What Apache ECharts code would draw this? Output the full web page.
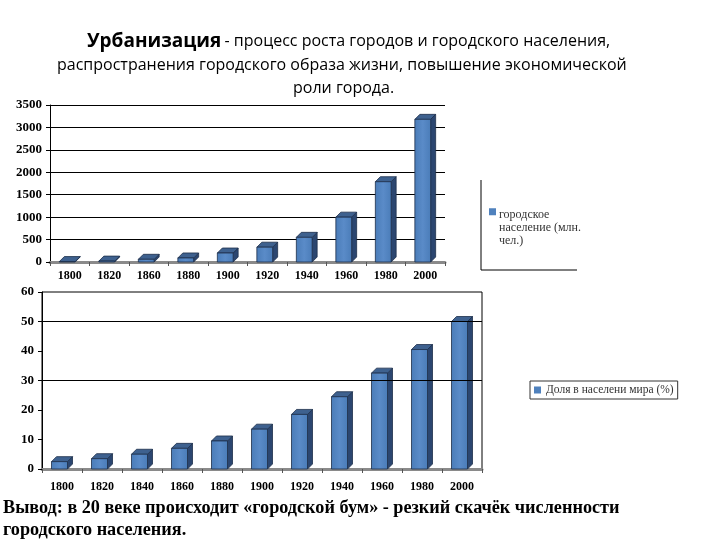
<!DOCTYPE html>
<html><head><meta charset="utf-8">
<script src="https://cdn.jsdelivr.net/npm/echarts@6/dist/echarts.min.js"></script>
<style>html,body{margin:0;padding:0;background:#fff}#c{width:720px;height:540px}</style>
</head><body><div id="c"></div>
<script>
// ---- data ----
const topYears = ['1800','1820','1860','1880','1900','1920','1940','1960','1980','2000'];
const urbanPop = [10, 20, 60, 90, 200, 330, 550, 1000, 1790, 3180];
const topTicks = {min: 0, max: 3500, interval: 500};

const botYears = ['1800','1820','1840','1860','1880','1900','1920','1940','1960','1980','2000'];
const worldShare = [2.5, 3.5, 5, 7, 9.5, 13.5, 18.5, 24.5, 32.5, 40.5, 50];
const botTicks = {min: 0, max: 60, interval: 10};
const botGridLines = [30, 50];

const topSeriesName = 'городское население (млн. чел.)';
const botSeriesName = 'Доля в населени мира (%)';

// ---- 3D-looking bar renderer via axis scales ----
function bar3d(params, api) {
  const idx = api.value(0), val = api.value(1);
  const top = api.coord([idx, val]);
  const base = api.coord([idx, 0]);
  const band = api.size([1, 0])[0];
  const w = band * 0.4, d = 5;
  const x0 = top[0] - w / 2 - d / 2, x1 = x0 + w;
  const yt = top[1], yb = base[1];
  const stroke = '#1d2f4a';
  return {
    type: 'group',
    children: [
      {type: 'polygon', shape: {points: [[x1, yt], [x1 + d, yt - d], [x1 + d, yb - d], [x1, yb]]},
       style: {fill: '#2b4670', stroke: stroke, lineWidth: 0.8}},
      {type: 'polygon', shape: {points: [[x0, yt], [x0 + d, yt - d], [x1 + d, yt - d], [x1, yt]]},
       style: {fill: '#3e618f', stroke: stroke, lineWidth: 0.8}},
      {type: 'rect', shape: {x: x0, y: yt, width: w, height: yb - yt},
       style: {fill: new echarts.graphic.LinearGradient(0, 0, 1, 0, [
         {offset: 0, color: '#4a7cb8'}, {offset: 0.5, color: '#5a8bc8'}, {offset: 1, color: '#4a7cb8'}]),
         stroke: stroke, lineWidth: 0.8}}
    ]
  };
}

const chart = echarts.init(document.getElementById('c'), null, {renderer: 'canvas'});
const axisFont = {fontFamily: 'Liberation Serif', fontWeight: 'bold', color: '#000'};
const titleFont = 'Open Sans';
const plain = v => String(v);

chart.setOption({
  animation: false,
  backgroundColor: '#fff',
  graphic: [
    {type: 'text', left: 87, top: 32, style: {
      text: '{b|Урбанизация} {n|- процесс роста городов и городского населения,}',
      rich: {b: {fontFamily: titleFont, fontWeight: 'bold', fontSize: 19, fill: '#000'},
             n: {fontFamily: titleFont, fontSize: 16, fill: '#000'}}}},
    {type: 'text', left: 57, top: 57, style: {
      text: 'распространения городского образа жизни, повышение экономической',
      fontFamily: titleFont, fontSize: 16, fill: '#000'}},
    {type: 'text', left: 293, top: 80, style: {
      text: 'роли города.', fontFamily: titleFont, fontSize: 16, fill: '#000'}},
    {type: 'polyline', shape: {points: [[481, 180], [481, 270], [577, 270]]},
     style: {stroke: '#000', lineWidth: 1, fill: null}},
    {type: 'text', left: 3, top: 497, style: {
      text: 'Вывод: в 20 веке происходит «городской бум» - резкий скачёк численности\nгородского населения.',
      fontFamily: 'Liberation Serif', fontWeight: 'bold', fontSize: 18.2, lineHeight: 22, fill: '#000'}}
  ],
  legend: [
    {data: [topSeriesName], left: 484, top: 203, orient: 'vertical',
     icon: 'path://M0,0H10V10H0Z M0,55H0.05V55.05H0Z',
     itemWidth: 7, itemHeight: 39, itemGap: 4,
     formatter: () => 'городское\nнаселение (млн.\nчел.)',
     textStyle: {fontFamily: 'Liberation Serif', fontSize: 12, color: '#333', lineHeight: 13, padding: [0, 0, 0, -2]}},
    {data: [botSeriesName], left: 530, top: 381, icon: 'rect',
     itemWidth: 7, itemHeight: 7, borderColor: '#333', borderWidth: 1, padding: [3, 4, 3, 4],
     textStyle: {fontFamily: 'Liberation Serif', fontSize: 11.5, color: '#333'}}
  ],
  grid: [
    {left: 50, top: 105, width: 395, height: 157, show: true, borderWidth: 0},
    {left: 42, top: 292, width: 440, height: 177, show: true, borderColor: '#000', borderWidth: 1}
  ],
  xAxis: [
    {type: 'category', gridIndex: 0, data: topYears,
     axisLine: {lineStyle: {color: '#8a8a8a', width: 3}},
     axisTick: {show: true, length: 4, lineStyle: {color: '#555'}},
     axisLabel: Object.assign({fontSize: 12, margin: 8}, axisFont)},
    {type: 'category', gridIndex: 1, data: botYears,
     axisLine: {lineStyle: {color: '#8a8a8a', width: 3}},
     axisTick: {show: true, length: 4, lineStyle: {color: '#555'}},
     axisLabel: Object.assign({fontSize: 12, margin: 12}, axisFont)}
  ],
  yAxis: [
    Object.assign({type: 'value', gridIndex: 0,
     axisLine: {show: true, lineStyle: {color: '#000'}},
     axisTick: {show: true, length: 4, lineStyle: {color: '#000'}},
     splitLine: {show: true, lineStyle: {color: '#000', width: 1}},
     axisLabel: Object.assign({fontSize: 13, margin: 8, formatter: plain}, axisFont)}, topTicks),
    Object.assign({type: 'value', gridIndex: 1,
     axisLine: {show: true, lineStyle: {color: '#000'}},
     axisTick: {show: true, length: 4, lineStyle: {color: '#000'}},
     splitLine: {show: false},
     axisLabel: Object.assign({fontSize: 13, margin: 8, formatter: plain}, axisFont)}, botTicks)
  ],
  series: [
    {name: topSeriesName, type: 'custom', xAxisIndex: 0, yAxisIndex: 0,
     itemStyle: {color: '#4f81bd'}, renderItem: bar3d, encode: {x: 0, y: 1},
     data: urbanPop.map((v, i) => [i, v])},
    {name: botSeriesName, type: 'custom', xAxisIndex: 1, yAxisIndex: 1,
     itemStyle: {color: '#4f81bd'}, renderItem: bar3d, encode: {x: 0, y: 1},
     data: worldShare.map((v, i) => [i, v]),
     markLine: {silent: true, symbol: 'none', label: {show: false},
       lineStyle: {color: '#000', type: 'solid', width: 1},
       data: botGridLines.map(v => ({yAxis: v}))}}
  ]
});
</script></body></html>
